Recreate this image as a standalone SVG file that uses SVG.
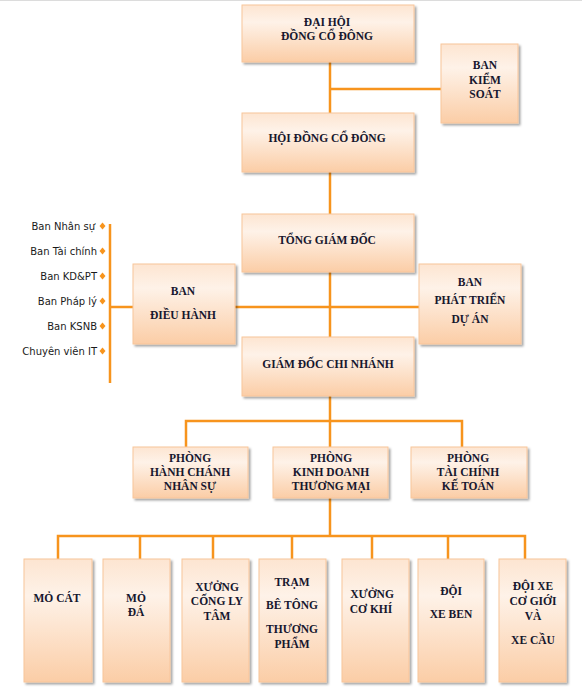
<svg xmlns="http://www.w3.org/2000/svg" width="582" height="695" viewBox="0 0 582 695">
<defs>
<linearGradient id="g" x1="0" y1="0" x2="0" y2="1">
<stop offset="0" stop-color="#fde5d1"/>
<stop offset="0.3" stop-color="#fef2e8"/>
<stop offset="1" stop-color="#fbcda6"/>
</linearGradient>
<filter id="sh" x="-10%" y="-10%" width="130%" height="130%">
<feDropShadow dx="2" dy="2" stdDeviation="1" flood-color="#000" flood-opacity="0.35"/>
</filter>
</defs>
<style>
.box{fill:url(#g);stroke:#f8c59a;stroke-width:1;filter:url(#sh)}
.t{font-family:"Liberation Serif","DejaVu Serif",serif;font-weight:bold;font-size:11.5px;fill:#17172e;text-anchor:middle;dominant-baseline:central}
.l{font-family:"DejaVu Sans","Liberation Sans",sans-serif;font-size:10px;fill:#1a1a1a;text-anchor:end;dominant-baseline:central}
.c{stroke:#f7941d;stroke-width:2.5;fill:none}
.d{fill:#f7941d}
</style>
<line x1="0" y1="0.5" x2="582" y2="0.5" stroke="#dcdcdc" stroke-width="1"/>
<g id="connectors">
<line class="c" x1="330" y1="62" x2="330" y2="113"/>
<line class="c" x1="330" y1="89" x2="441" y2="89"/>
<line class="c" x1="330" y1="172" x2="330" y2="214"/>
<line class="c" x1="330" y1="272" x2="330" y2="337"/>
<line class="c" x1="235" y1="307" x2="419" y2="307"/>
<line class="c" x1="110" y1="224" x2="110" y2="383"/>
<line class="c" x1="110" y1="307" x2="133" y2="307"/>
<line class="c" x1="330" y1="396" x2="330" y2="447"/>
<polyline class="c" points="186,447 186,421 462,421 462,447"/>
<line class="c" x1="330" y1="498" x2="330" y2="536"/>
<polyline class="c" points="58,559 58,536 525,536 525,559"/>
<line class="c" x1="140" y1="536" x2="140" y2="559"/>
<line class="c" x1="213" y1="536" x2="213" y2="559"/>
<line class="c" x1="292" y1="536" x2="292" y2="559"/>
<line class="c" x1="372" y1="536" x2="372" y2="559"/>
<line class="c" x1="448" y1="536" x2="448" y2="559"/>
</g>
<g id="list">
<text class="l" x="95" y="226">Ban Nhân sự</text>
<text class="l" x="97" y="251">Ban Tài chính</text>
<text class="l" x="97" y="276">Ban KD&amp;PT</text>
<text class="l" x="97" y="301">Ban Pháp lý</text>
<text class="l" x="97" y="326">Ban KSNB</text>
<text class="l" x="97" y="351">Chuyên viên IT</text>
<path class="d" d="M102.5,222.5l3,3.5l-3,3.5l-3,-3.5z"/>
<path class="d" d="M102.5,247.5l3,3.5l-3,3.5l-3,-3.5z"/>
<path class="d" d="M102.5,272.5l3,3.5l-3,3.5l-3,-3.5z"/>
<path class="d" d="M102.5,297.5l3,3.5l-3,3.5l-3,-3.5z"/>
<path class="d" d="M102.5,322.5l3,3.5l-3,3.5l-3,-3.5z"/>
<path class="d" d="M102.5,347.5l3,3.5l-3,3.5l-3,-3.5z"/>
</g>
<g id="dhdcd"><rect class="box" x="242" y="5" width="172" height="57"/>
<text class="t" x="327" y="22">ĐẠI HỘI</text><text class="t" x="327" y="36">ĐỒNG CỔ ĐÔNG</text></g>
<g id="bks"><rect class="box" x="441" y="44" width="77" height="79"/>
<text class="t" x="485" y="65">BAN</text><text class="t" x="485" y="80">KIỂM</text><text class="t" x="485" y="94">SOÁT</text></g>
<g id="hdcd"><rect class="box" x="242" y="113" width="172" height="59"/>
<text class="t" x="327" y="138">HỘI ĐỒNG CỔ ĐÔNG</text></g>
<g id="tgd"><rect class="box" x="242" y="214" width="172" height="58"/>
<text class="t" x="327" y="240">TỔNG GIÁM ĐỐC</text></g>
<g id="bdh"><rect class="box" x="133" y="264" width="102" height="80"/>
<text class="t" x="183" y="291">BAN</text><text class="t" x="183" y="315">ĐIỀU HÀNH</text></g>
<g id="bptda"><rect class="box" x="419" y="264" width="102" height="80"/>
<text class="t" x="470" y="282">BAN</text><text class="t" x="470" y="300">PHÁT TRIỂN</text><text class="t" x="470" y="319">DỰ ÁN</text></g>
<g id="gdcn"><rect class="box" x="242" y="337" width="172" height="59"/>
<text class="t" x="328" y="364">GIÁM ĐỐC CHI NHÁNH</text></g>
<g id="phcns"><rect class="box" x="133" y="447" width="115" height="51"/>
<text class="t" x="190" y="458">PHÒNG</text><text class="t" x="190" y="472">HÀNH CHÁNH</text><text class="t" x="190" y="486">NHÂN SỰ</text></g>
<g id="pkdtm"><rect class="box" x="273" y="447" width="115" height="51"/>
<text class="t" x="331" y="458">PHÒNG</text><text class="t" x="331" y="472">KINH DOANH</text><text class="t" x="331" y="486">THƯƠNG MẠI</text></g>
<g id="ptckt"><rect class="box" x="411" y="447" width="116" height="51"/>
<text class="t" x="468" y="458">PHÒNG</text><text class="t" x="468" y="472">TÀI CHÍNH</text><text class="t" x="468" y="486">KẾ TOÁN</text></g>
<g id="mocat"><rect class="box" x="24" y="559" width="68" height="123"/>
<text class="t" x="57" y="598">MỎ CÁT</text></g>
<g id="moda"><rect class="box" x="103" y="559" width="67" height="123"/>
<text class="t" x="136" y="598">MỎ</text><text class="t" x="136" y="612">ĐÁ</text></g>
<g id="xclt"><rect class="box" x="182" y="559" width="67" height="123"/>
<text class="t" x="217" y="587">XƯỞNG</text><text class="t" x="217" y="601">CỐNG LY</text><text class="t" x="217" y="616">TÂM</text></g>
<g id="tbt"><rect class="box" x="259" y="559" width="67" height="123"/>
<text class="t" x="292" y="582">TRẠM</text><text class="t" x="292" y="605">BÊ TÔNG</text><text class="t" x="292" y="629">THƯƠNG</text><text class="t" x="292" y="644">PHẨM</text></g>
<g id="xck"><rect class="box" x="342" y="559" width="67" height="123"/>
<text class="t" x="372" y="594">XƯỞNG</text><text class="t" x="371" y="609">CƠ KHÍ</text></g>
<g id="dxb"><rect class="box" x="418" y="559" width="66" height="123"/>
<text class="t" x="451" y="591">ĐỘI</text><text class="t" x="451" y="614">XE BEN</text></g>
<g id="dxcg"><rect class="box" x="499" y="559" width="67" height="123"/>
<text class="t" x="533" y="586">ĐỘI XE</text><text class="t" x="533" y="601">CƠ GIỚI</text><text class="t" x="533" y="616">VÀ</text><text class="t" x="533" y="640">XE CẦU</text></g>
</svg>
